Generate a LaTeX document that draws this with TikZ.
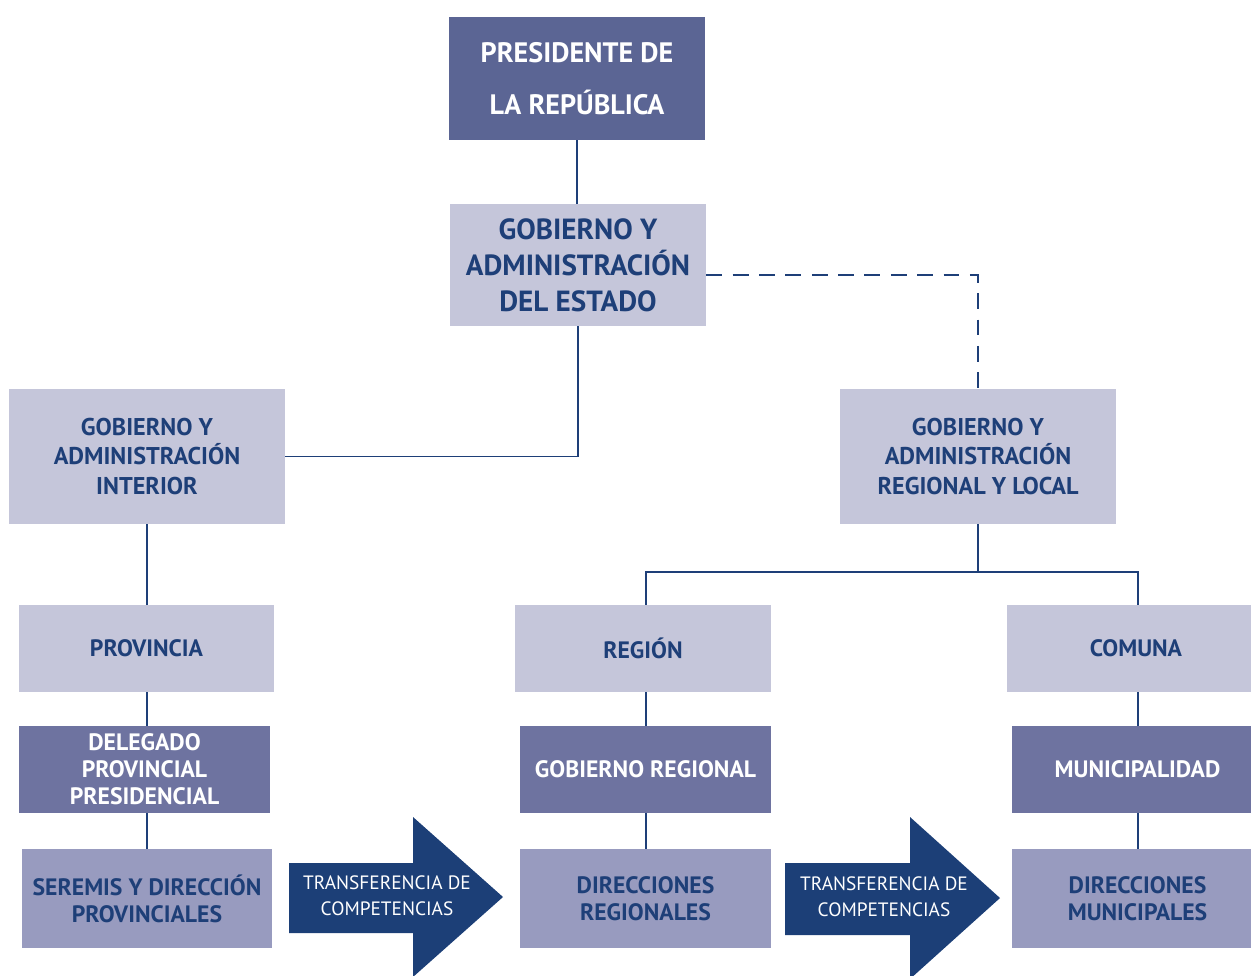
\documentclass[tikz,border=0pt]{standalone}
\usepackage{fontspec}
\setmainfont{PT Sans}
\usetikzlibrary{calc}
\definecolor{cDark}{HTML}{5B6594}
\definecolor{cLight}{HTML}{C5C6DA}
\definecolor{cMid}{HTML}{6E73A0}
\definecolor{cLow}{HTML}{989BBF}
\definecolor{cNavy}{HTML}{1C3F77}
\definecolor{cText}{HTML}{1E3F78}
\tikzset{
  box/.style={inner sep=0pt, align=center, font=\bfseries},
  lightbox/.style={box, fill=cLight, text=cText},
  darkbox/.style={box, fill=cDark, text=white},
  midbox/.style={box, fill=cMid, text=white},
  lowbox/.style={box, fill=cLow, text=cText},
  conn/.style={draw=cText, line width=0.7pt},
  bigarrow/.style={fill=cNavy},
  arrowtext/.style={text=white, align=center, font=\fontsize{11}{14.7}\selectfont},
}
\begin{document}
\begin{tikzpicture}[x=0.02cm, y=-0.02cm]
\useasboundingbox (0,0) rectangle (1251,975);
\clip (0,0) rectangle (1251,975);
% boxes
\node[darkbox, minimum width=5.12cm, minimum height=2.46cm, font=\bfseries\fontsize{16}{29.5}\selectfont] (pres) at (577,78.5) {PRESIDENTE DE\\LA REPÚBLICA};
\node[lightbox, minimum width=5.12cm, minimum height=2.44cm, font=\bfseries\fontsize{16.6}{20.6}\selectfont] (estado) at (578,265) {GOBIERNO Y\\ADMINISTRACIÓN\\DEL ESTADO};
\node[lightbox, minimum width=5.52cm, minimum height=2.70cm, font=\bfseries\fontsize{13.8}{16.9}\selectfont] (interior) at (147,456.5) {GOBIERNO Y\\ADMINISTRACIÓN\\INTERIOR};
\node[lightbox, minimum width=5.52cm, minimum height=2.70cm, font=\bfseries\fontsize{13.8}{16.9}\selectfont] (regional) at (978,456.5) {GOBIERNO Y\\ADMINISTRACIÓN\\REGIONAL Y LOCAL};
\node[lightbox, minimum width=5.10cm, minimum height=1.74cm, font=\bfseries\fontsize{13.5}{16.7}\selectfont] (provincia) at (146.5,648.5) {PROVINCIA};
\node[lightbox, minimum width=5.12cm, minimum height=1.74cm, font=\bfseries\fontsize{13.5}{16.7}\selectfont] (region) at (643,648.5) {REGIÓN};
\node[lightbox, minimum width=5.16cm, minimum height=1.74cm, font=\bfseries\fontsize{13.5}{16.7}\selectfont] (comuna) at (1136,648.5) {COMUNA};
\node[midbox, minimum width=5.02cm, minimum height=1.74cm, font=\bfseries\fontsize{13.5}{15.3}\selectfont] (delegado) at (144.5,769.5) {DELEGADO\\PROVINCIAL\\PRESIDENCIAL};
\node[midbox, minimum width=5.02cm, minimum height=1.74cm, font=\bfseries\fontsize{13.5}{15.3}\selectfont] (gobreg) at (645.5,769.5) {GOBIERNO REGIONAL};
\node[midbox, minimum width=5.02cm, minimum height=1.74cm, font=\bfseries\fontsize{13.5}{15.3}\selectfont] (muni) at (1137.5,769.5) {MUNICIPALIDAD};
\node[lowbox, minimum width=5.00cm, minimum height=1.98cm, font=\bfseries\fontsize{13.5}{15.3}\selectfont] (seremis) at (147,898.5) {SEREMIS Y DIRECCIÓN\\PROVINCIALES};
\node[lowbox, minimum width=5.02cm, minimum height=1.98cm, font=\bfseries\fontsize{13.5}{15.3}\selectfont] (dirreg) at (645.5,898.5) {DIRECCIONES\\REGIONALES};
\node[lowbox, minimum width=5.02cm, minimum height=1.98cm, font=\bfseries\fontsize{13.5}{15.3}\selectfont] (dirmun) at (1137.5,898.5) {DIRECCIONES\\MUNICIPALES};
% arrows
\fill[bigarrow] (289,863) -- (413,863) -- (413,817) -- (503,897) -- (413,977) -- (413,933) -- (289,933) -- cycle;
\fill[bigarrow] (785,863) -- (910,863) -- (910,817) -- (1000,898) -- (910,979) -- (910,935) -- (785,935) -- cycle;
\node[arrowtext] (t1) at (387,896) {TRANSFERENCIA DE\\COMPETENCIAS};
\node[arrowtext] (t2) at (884,897) {TRANSFERENCIA DE\\COMPETENCIAS};
% connectors
\coordinate (dash) at (706,275);
\coordinate (bus) at (978,572);
\coordinate (rx) at (646,0);
\coordinate (cx) at (1138,0);
\coordinate (lx) at (147,0);
\draw[conn] (pres.south) -- (estado.north -| pres.south);
\draw[conn] (estado.south) |- (interior.east);
\draw[conn, dash pattern=on 9pt off 6pt] (estado.east |- dash) -| (regional.north);
\draw[conn] (lx |- interior.south) -- (lx |- provincia.north);
\draw[conn] (regional.south) -- (bus);
\draw[conn] (rx |- region.north) |- (bus) -| (cx |- comuna.north);
\draw[conn] (lx |- provincia.south) -- (lx |- delegado.north);
\draw[conn] (lx |- delegado.south) -- (lx |- seremis.north);
\draw[conn] (rx |- region.south) -- (rx |- gobreg.north);
\draw[conn] (rx |- gobreg.south) -- (rx |- dirreg.north);
\draw[conn] (cx |- comuna.south) -- (cx |- muni.north);
\draw[conn] (cx |- muni.south) -- (cx |- dirmun.north);
\end{tikzpicture}
\end{document}
